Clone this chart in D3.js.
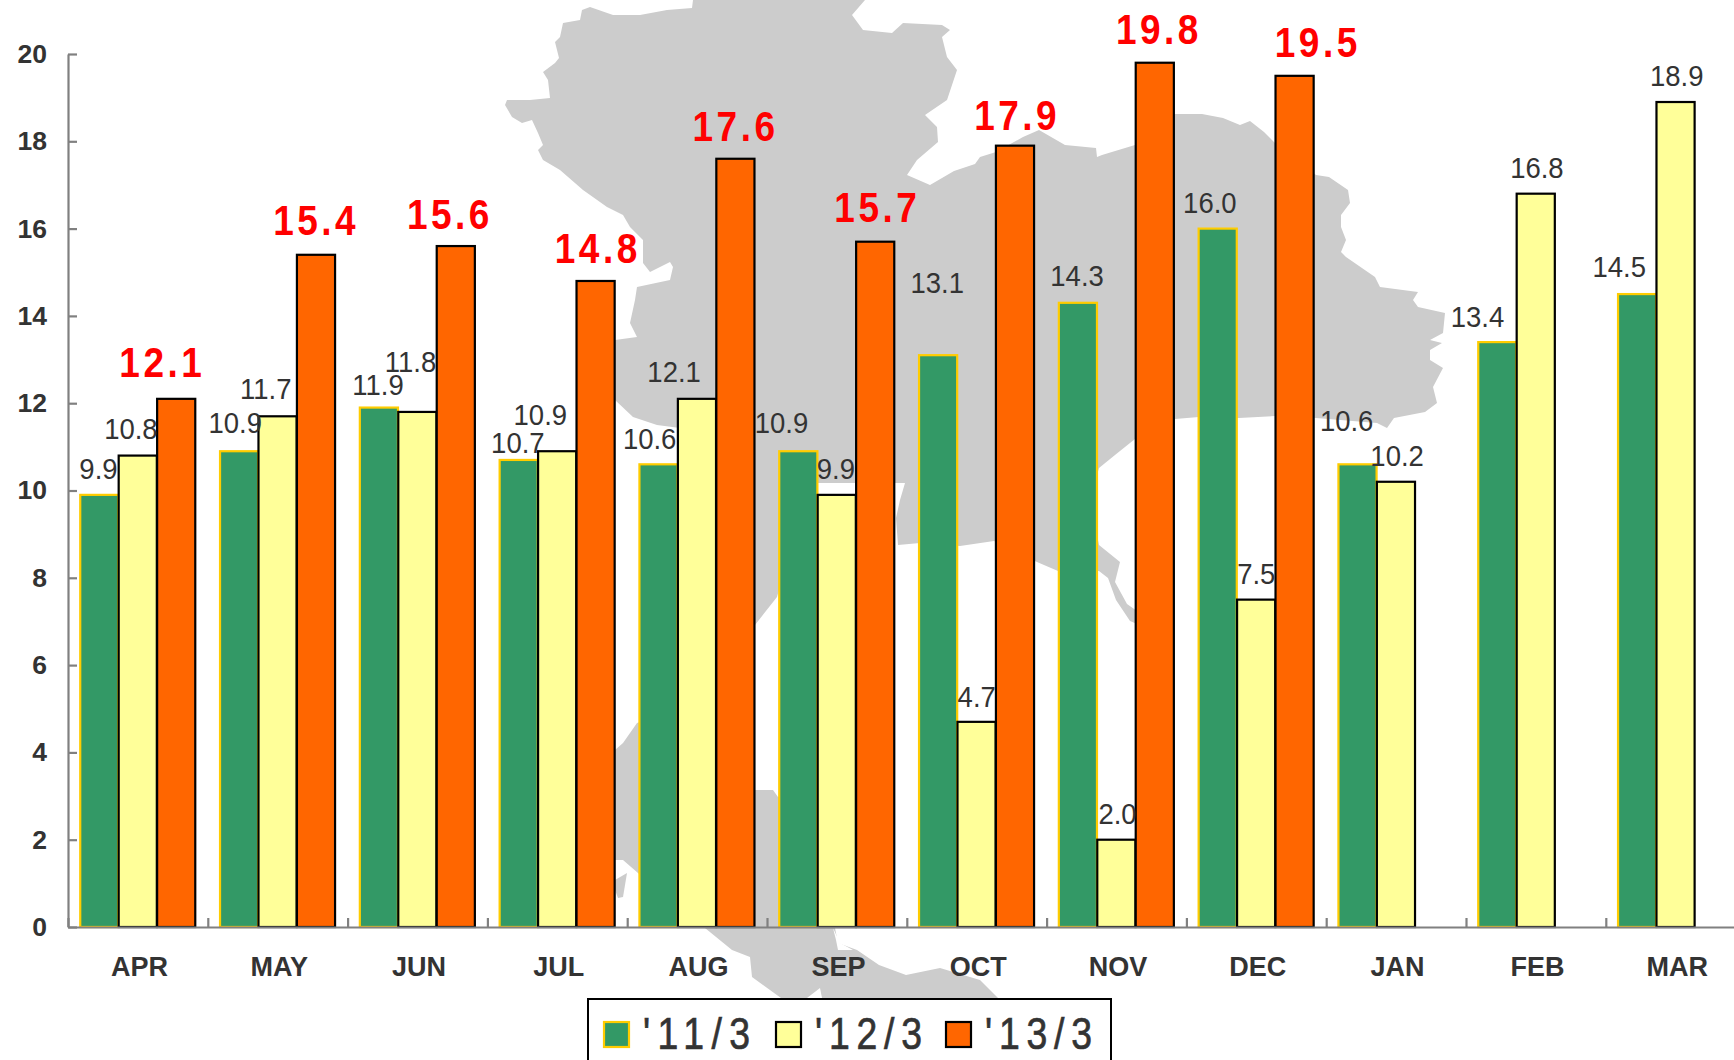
<!DOCTYPE html>
<html><head><meta charset="utf-8">
<script src="https://cdn.jsdelivr.net/npm/d3@7"></script>
<style>html,body{margin:0;padding:0;background:#fff;overflow:hidden}svg{display:block}text{font-family:"Liberation Sans",Arial,sans-serif}</style>
</head><body><div id="c"></div>
<script>
const months = ["APR","MAY","JUN","JUL","AUG","SEP","OCT","NOV","DEC","JAN","FEB","MAR"];
const seriesNames = ["'11/3","'12/3","'13/3"];
const values11 = [9.9,10.9,11.9,10.7,10.6,10.9,13.1,14.3,16.0,10.6,13.4,14.5];
const values12 = [10.8,11.7,11.8,10.9,12.1,9.9,4.7,2.0,7.5,10.2,16.8,18.9];
const values13 = [12.1,15.4,15.6,14.8,17.6,15.7,17.9,19.8,19.5,null,null,null];
const yTicks = [0,2,4,6,8,10,12,14,16,18,20];

// hand placement of the value labels, as in the original chart: [shift in x, gap above bar]
const nudge11 = [[0,16],[-3,18],[0,13],[0,7],[-8,15],[-16,18],[0,62],[0,17],[-7,16],[-10,33],[-19,15],[-17,17]];
const nudge12 = [[-6,17],[-11,17],[-6,40],[-16,26],[-22,17],[0,16],[1,15],[2,16],[1,16],[2,16],[2,16],[2,16]];
const nudge13 = [[-14,22],[0,20],[-6,17],[2,18],[0,18],[2,20],[2,16],[4,19],[23,19]];

// decorative grey map behind the plot, traced as page outline
const mapMain = [[693,0],[692,8],[667,10],[640,15],[613,15],[590,7],[582,10],[580,20],[563,23],[560,37],[555,42],[559,58],[555,63],[543,72],[548,80],[550,98],[530,100],[507,100],[505,105],[512,117],[522,123],[532,120],[538,133],[543,145],[538,150],[543,160],[560,170],[583,190],[607,207],[623,215],[630,227],[643,240],[643,263],[650,272],[670,262],[673,267],[670,280],[637,287],[635,300],[630,323],[637,337],[615,340],[605,380],[615,400],[633,417],[657,425],[680,428],[716,500],[755,625],[777,597],[790,550],[818,483],[857,483],[905,483],[900,500],[896,518],[898,545],[920,543],[960,546],[994,541],[1037,562],[1058,571],[1099,571],[1108,578],[1116,600],[1130,621],[1137,624],[1137,611],[1127,604],[1115,582],[1120,562],[1099,545],[1090,500],[1099,468],[1115,455],[1135,439],[1150,425],[1175,419],[1199,417],[1239,418],[1275,416],[1316,418],[1377,423],[1387,428],[1394,418],[1425,412],[1437,403],[1433,387],[1443,368],[1430,360],[1430,350],[1442,343],[1430,340],[1443,333],[1445,313],[1418,307],[1413,300],[1418,292],[1380,287],[1375,277],[1346,257],[1341,252],[1346,240],[1341,227],[1341,215],[1350,203],[1348,190],[1329,177],[1316,175],[1275,143],[1264,132],[1250,121],[1240,125],[1223,118],[1202,114],[1175,114],[1135,145],[1102,155],[1097,157],[1096,148],[1065,145],[1039,130],[1023,137],[996,152],[980,157],[975,164],[954,171],[930,185],[907,175],[917,160],[938,142],[937,127],[925,115],[947,100],[957,70],[947,57],[942,37],[950,30],[942,25],[903,23],[892,33],[863,30],[852,15],[865,0]];
const mapSouth = [[600,770],[615,750],[623,743],[637,723],[700,700],[755,790],[773,790],[778,797],[800,800],[817,925],[817,928],[835,928],[838,943],[857,950],[879,965],[906,975],[940,968],[980,980],[998,998],[1000,1010],[781,1010],[781,998],[752,977],[750,957],[732,950],[705,928],[700,925],[640,875],[638,873],[623,860],[615,860],[600,860]];
const mapIsland = [[615,880],[627,873],[623,897],[618,898],[615,890]];
const mapLakes = [[[833,928],[840,943],[853,950],[838,950],[836,940]],[[807,998],[820,988],[822,998]]];

const W=1734,H=1060;
const seriesValues=[values11,values12,values13];
const nudges=[nudge11,nudge12,nudge13];
const fills=["#339966","#FFFF99","#FF6600"];
const strokes=["#FFCC00","#000000","#000000"];
const ink="#333333";

const svg=d3.select("#c").append("svg").attr("width",W).attr("height",H);
svg.append("rect").attr("width",W).attr("height",H).attr("fill","#fff");

const poly=d3.line().curve(d3.curveLinearClosed);
const mapG=svg.append("g");
[mapMain,mapSouth,mapIsland].forEach(p=>mapG.append("path").attr("d",poly(p)).attr("fill","#CCCCCC"));
mapLakes.forEach(p=>mapG.append("path").attr("d",poly(p)).attr("fill","#fff"));

const axisX=68, step=139.8, baseY=927, topY=54;
const x0=d3.scaleBand().domain(months).range([axisX,axisX+step*months.length]).paddingInner(0.175).paddingOuter(0.0875);
const x1=d3.scaleBand().domain(d3.range(3)).range([0,x0.bandwidth()]);
const y=d3.scaleLinear().domain([0,20]).range([baseY,topY]);
const boundary=d3.scaleLinear().domain([0,months.length]).range(x0.range());

seriesValues.forEach((vals,s)=>{
  svg.append("g").selectAll("rect")
    .data(months.map((m,i)=>({m,v:vals[i]})).filter(d=>d.v!=null))
    .join("rect")
    .attr("x",d=>x0(d.m)+x1(s))
    .attr("y",d=>y(d.v))
    .attr("width",x1.bandwidth()-0.3)
    .attr("height",d=>y(0)-y(d.v))
    .attr("fill",fills[s]).attr("stroke",strokes[s]).attr("stroke-width",2.2);
});

// y axis, ticks pointing into the plot
const ya=svg.append("g").attr("transform",`translate(${axisX},0)`)
  .call(d3.axisLeft(y).tickValues(yTicks).tickSize(-9).tickPadding(21).tickSizeOuter(0));
ya.selectAll("path,line").attr("stroke","#808080").attr("stroke-width",2.2);
ya.selectAll("text").attr("fill",ink).attr("font-size",26.5).attr("font-weight","bold").style("font-family",'"Liberation Sans",Arial,sans-serif');

// x axis line with boundary ticks
const xa=svg.append("g").attr("transform",`translate(0,${baseY})`)
  .call(d3.axisBottom(boundary).tickValues(d3.range(months.length+1)).tickSize(-9).tickSizeOuter(0).tickFormat(""));
xa.selectAll("path,line").attr("stroke","#808080").attr("stroke-width",2.2);

// month labels
const xl=svg.append("g").attr("transform",`translate(1.5,${baseY})`)
  .call(d3.axisBottom(x0).tickSize(0).tickPadding(0));
xl.select(".domain").remove();
xl.selectAll("text").attr("y",49).attr("dy",0).attr("fill",ink).attr("font-size",27).attr("font-weight","bold").style("font-family",'"Liberation Sans",Arial,sans-serif');

// value labels
[0,1].forEach(s=>{
  svg.append("g").selectAll("text")
    .data(months.map((m,i)=>({m,v:seriesValues[s][i],n:nudges[s][i]})))
    .join("text")
    .attr("transform",d=>`translate(${x0(d.m)+x1(s)+x1.bandwidth()/2+d.n[0]-1},${y(d.v)-d.n[1]}) scale(1,1.1)`)
    .attr("text-anchor","middle").attr("fill",ink).attr("font-size",27.5)
    .text(d=>d.v.toFixed(1));
});
svg.append("g").selectAll("text")
  .data(months.map((m,i)=>({m,v:values13[i],n:nudge13[i]})).filter(d=>d.v!=null))
  .join("text")
  .attr("transform",d=>`translate(${x0(d.m)+x1(2)+x1.bandwidth()/2+d.n[0]},${y(d.v)-d.n[1]}) scale(1,1.15)`)
  .attr("text-anchor","middle").attr("fill","#FF0000").attr("font-size",37).attr("font-weight","bold")
  .attr("letter-spacing",3.5)
  .text(d=>d.v.toFixed(1));

// legend
const lg=svg.append("g");
lg.append("rect").attr("x",588).attr("y",999).attr("width",523).attr("height",90).attr("fill","#fff").attr("stroke","#000").attr("stroke-width",2);
const legendX=[603,775,945];
seriesNames.forEach((n,s)=>{
  lg.append("rect").attr("x",legendX[s]+1).attr("y",1022).attr("width",25).attr("height",25)
    .attr("fill",fills[s]).attr("stroke",strokes[s]).attr("stroke-width",2.2);
  lg.append("text").attr("transform",`translate(${legendX[s]+40},1049) scale(0.85,1)`)
    .attr("fill",ink).attr("stroke",ink).attr("stroke-width",0.7).attr("font-size",44)
    .attr("textLength",126).attr("lengthAdjust","spacing").text(n);
});
</script></body></html>
